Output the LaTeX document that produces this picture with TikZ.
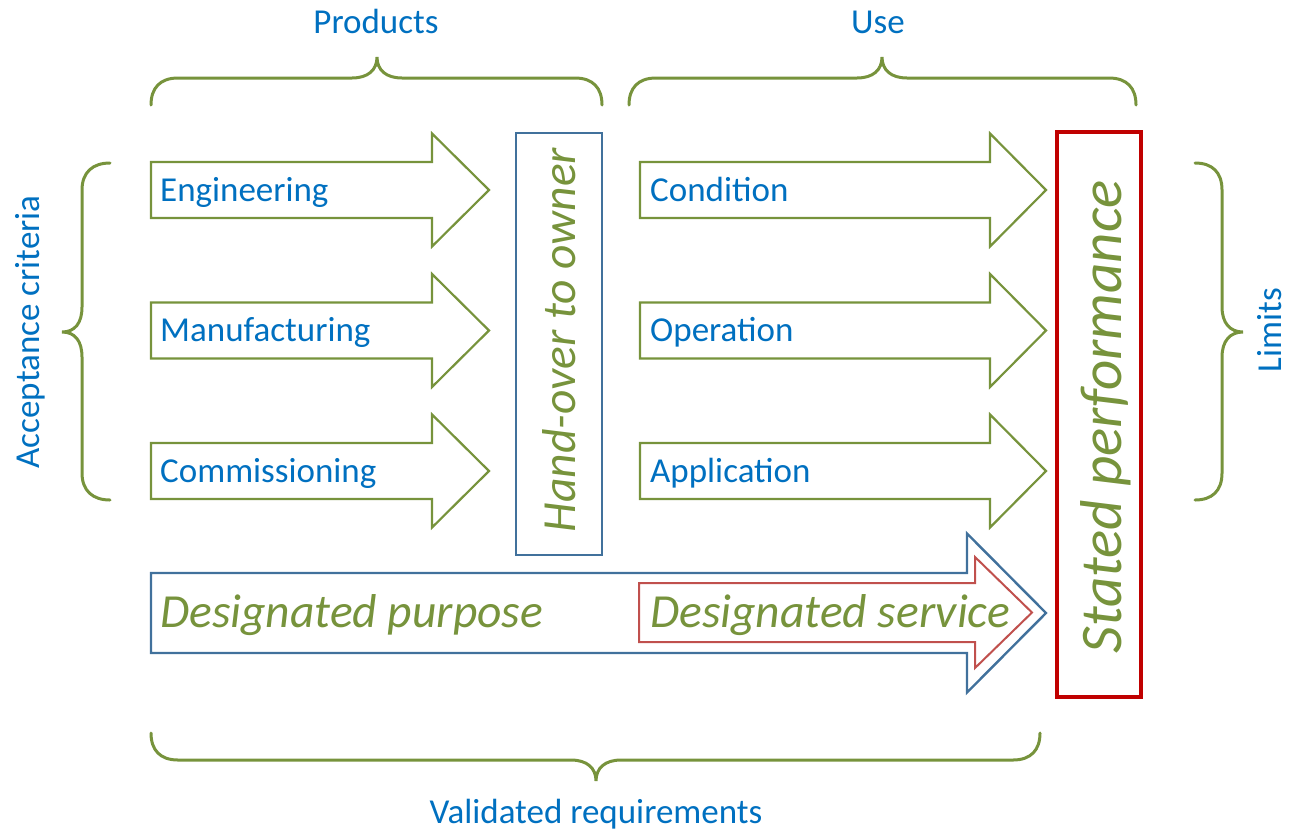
\documentclass[tikz,border=0pt]{standalone}
\usepackage{fontspec}
\setmainfont{Carlito}
\definecolor{grn}{RGB}{119,147,60}
\definecolor{txtblue}{RGB}{0,112,192}
\definecolor{boxblue}{RGB}{65,113,156}
\definecolor{darkred}{RGB}{192,0,0}
\definecolor{softred}{RGB}{192,80,77}
\newcommand\fatarrow[7]{% style, x0, xback, xtip, yc, shaft half, head half
  \draw[#1] (#2,#5-#6) -- (#3,#5-#6) -- (#3,#5-#7) -- (#4,#5) -- (#3,#5+#7) -- (#3,#5+#6) -- (#2,#5+#6) -- cycle;}
\begin{document}
\begin{tikzpicture}[x=1pt,y=-1pt,
  garrow/.style={draw=grn,line width=2.2pt,line join=miter},
  barrow/.style={draw=boxblue,line width=2.4pt,line join=miter},
  rarrow/.style={draw=softred,line width=2pt,line join=miter},
  brace/.style={draw=grn,line width=3pt,line cap=round},
  lbl/.style={inner sep=0pt,text=txtblue,font=\fontsize{35}{40}\selectfont},
  big/.style={inner sep=0pt,text=grn,font=\fontsize{47.5}{52}\selectfont\itshape},
  huge/.style={inner sep=0pt,text=grn,font=\fontsize{59}{64}\selectfont\itshape}]
\useasboundingbox (0,0) rectangle (1289,831);
% left arrows
\fatarrow{garrow}{151}{432}{489}{190}{28}{56.5}
\fatarrow{garrow}{151}{432}{489}{330.5}{28}{56.5}
\fatarrow{garrow}{151}{432}{489}{471}{28}{56.5}
% right arrows
\fatarrow{garrow}{640}{990}{1046}{190}{28}{56.5}
\fatarrow{garrow}{640}{990}{1046}{330.5}{28}{56.5}
\fatarrow{garrow}{640}{990}{1046}{471}{28}{56.5}
% big arrows
\fatarrow{barrow}{151}{967}{1046}{613}{40}{79.5}
\fatarrow{rarrow}{639}{975}{1032}{612.5}{29.5}{55.5}
% boxes
\node[draw=boxblue,line width=2.2pt,minimum width=86pt,minimum height=422pt,inner sep=0pt] (hand) at (559,344) {};
\node[draw=darkred,line width=4pt,minimum width=84pt,minimum height=565pt,inner sep=0pt] (stated) at (1099,414.5) {};
% texts
\node[lbl,anchor=base west] (eng) at (160,201) {Engineering};
\node[lbl,anchor=base west] (man) at (160,341.5) {Manufacturing};
\node[lbl,anchor=base west] (com) at (160,482) {Commissioning};
\node[lbl,anchor=base west] (con) at (650,201) {Condition};
\node[lbl,anchor=base west] (ope) at (650,341.5) {Operation};
\node[lbl,anchor=base west] (app) at (650,482) {Application};
\node[big,anchor=base west] (purp) at (160,627) {Designated purpose};
\node[big,anchor=base west] (serv) at (650,627) {Designated service};
\node[big,rotate=90,anchor=base] (handt) at (575,340) {Hand-over to owner};
\node[huge,rotate=90,anchor=base] (statedt) at (1121,417) {Stated performance};
\node[lbl,anchor=base] (prod) at (376,33) {Products};
\node[lbl,anchor=base] (use) at (878,33) {Use};
\node[lbl,anchor=base] (valid) at (596,823) {Validated requirements};
\node[lbl,rotate=90,anchor=base] (acc) at (39,332) {Acceptance criteria};
\node[lbl,rotate=90,anchor=base] (lim) at (1281,330) {Limits};
% braces
\draw[brace] (151,105) .. controls (151,88) and (160,78) .. (178,78) -- (352,78)
  .. controls (368,78) and (377,70) .. (377,57) .. controls (377,70) and (386,78) .. (402,78)
  -- (575,78) .. controls (593,78) and (602,88) .. (602,105);
\draw[brace] (629,105) .. controls (629,88) and (638,78) .. (656,78) -- (857,78)
  .. controls (873,78) and (882,70) .. (882,57) .. controls (882,70) and (891,78) .. (907,78)
  -- (1109,78) .. controls (1127,78) and (1136,88) .. (1136,105);
\draw[brace] (151,733) .. controls (151,750) and (160,760) .. (178,760) -- (571,760)
  .. controls (587,760) and (596,768) .. (596,781) .. controls (596,768) and (605,760) .. (621,760)
  -- (1013,760) .. controls (1031,760) and (1040,750) .. (1040,733);
\draw[brace] (110,163) .. controls (93,163) and (82,172) .. (82,190) -- (82,307)
  .. controls (82,323) and (75,332) .. (62,332) .. controls (75,332) and (82,341) .. (82,357)
  -- (82,473) .. controls (82,491) and (93,500) .. (110,500);
\draw[brace] (1195,163) .. controls (1212,163) and (1222,172) .. (1222,190) -- (1222,307)
  .. controls (1222,323) and (1230,332) .. (1243,332) .. controls (1230,332) and (1222,341) .. (1222,357)
  -- (1222,473) .. controls (1222,491) and (1212,500) .. (1195,500);
\end{tikzpicture}
\end{document}
